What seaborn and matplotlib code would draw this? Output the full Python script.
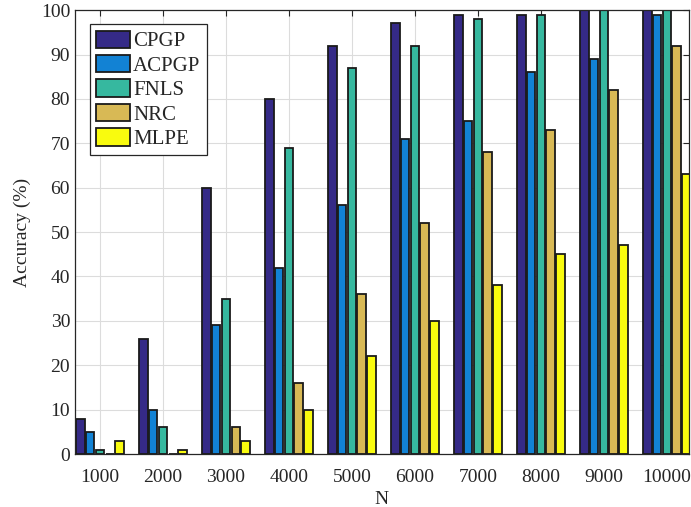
import numpy as np
import pandas as pd
import matplotlib
matplotlib.use("Agg")
import matplotlib.pyplot as plt
import seaborn as sns

# Data
N_LABELS = ["1000", "2000", "3000", "4000", "5000", "6000", "7000", "8000", "9000", "10000"]
METHODS = ["CPGP", "ACPGP", "FNLS", "NRC", "MLPE"]
cpgp = [8, 26, 60, 80, 92, 97, 99, 99, 100, 100]
acpgp = [5, 10, 29, 42, 56, 71, 75, 86, 89, 99]
fnls = [1, 6, 35, 69, 87, 92, 98, 99, 100, 100]
nrc = [0, 0, 6, 16, 36, 52, 68, 73, 82, 92]
mlpe = [3, 1, 3, 10, 22, 30, 38, 45, 47, 63]

COLORS = ["#352a87", "#1282d4", "#36b89f", "#d8b955", "#f9fb0e"]

rows = []
for method, vals in zip(METHODS, [cpgp, acpgp, fnls, nrc, mlpe]):
    for n, v in zip(N_LABELS, vals):
        rows.append({"N": n, "Method": method, "Accuracy": v})
df = pd.DataFrame(rows)

sns.set_style("white")
plt.rcParams["font.family"] = ["Liberation Serif", "DejaVu Serif"]

fig = plt.figure(figsize=(6.91, 5.07), dpi=100)
ax = fig.add_axes([0.1085, 0.1045, 0.8885, 0.8755])

sns.barplot(data=df, x="N", y="Accuracy", hue="Method", order=N_LABELS,
            hue_order=METHODS, palette=COLORS, width=0.77, gap=0.14,
            edgecolor="#1a1a1a", linewidth=1.3, saturation=1, ax=ax)

ax.set_xlim(-0.397, 9.349)
ax.set_ylim(0, 100)
ax.set_yticks(np.arange(0, 101, 10))
ax.set_axisbelow(True)
ax.grid(True, color="#dcdcdc", linewidth=0.8)
ax.tick_params(direction="in", length=4, width=0.8, colors="#262626",
               labelsize=14, top=True, right=True, labelcolor="#262626")
ax.tick_params(axis="x", pad=10.5)
for s in ax.spines.values():
    s.set_color("#262626")
    s.set_linewidth(0.9)

ax.set_xlabel("N", fontsize=14, color="#262626", labelpad=4)
ax.set_ylabel("Accuracy (%)", fontsize=14, color="#262626", labelpad=7)

leg = ax.legend(loc="upper left", bbox_to_anchor=(0.024, 0.968), fontsize=15,
                fancybox=False, edgecolor="#262626", framealpha=1,
                handlelength=1.63, handleheight=0.91, labelspacing=0.17,
                handletextpad=0.15, borderpad=0.3, borderaxespad=0)
leg.get_frame().set_linewidth(0.9)

fig.savefig("out.png", dpi=100)
